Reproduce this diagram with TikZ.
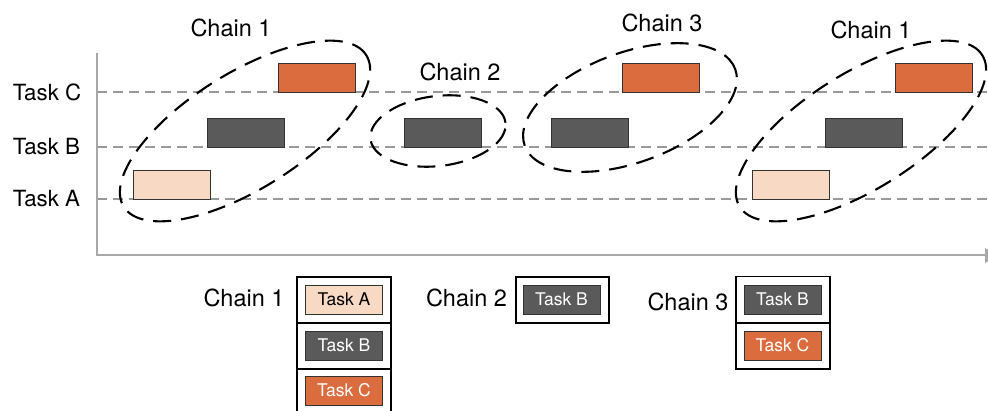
\documentclass[tikz,border=0pt]{standalone}
\usepackage{fontspec}
\setmainfont{TeX Gyre Heros}
\definecolor{peach}{HTML}{F8D9C4}
\definecolor{darkbar}{HTML}{5A5A5A}
\definecolor{orangebar}{HTML}{DB6C3E}
\definecolor{gridgray}{HTML}{999999}
\definecolor{axisgray}{HTML}{A8A8A8}
\definecolor{barline}{HTML}{333333}
\tikzset{
  bar/.style={draw=barline, line width=0.9pt, minimum width=77pt, minimum height=28.5pt, inner sep=0pt},
  barA/.style={bar, fill=peach},
  barB/.style={bar, fill=darkbar},
  barC/.style={bar, fill=orangebar},
  sbar/.style={draw=barline, line width=0.9pt, minimum width=77pt, minimum height=29pt, inner sep=0pt, font=\fontsize{17.5}{19}\selectfont},
  sbarA/.style={sbar, fill=peach, text=black},
  sbarB/.style={sbar, fill=darkbar, text=white},
  sbarC/.style={sbar, fill=orangebar, text=white},
  cell/.style={draw=black, line width=1.4pt, minimum width=94pt, minimum height=46pt, inner sep=0pt},
  gridline/.style={draw=gridgray, line width=2.6pt, dash pattern=on 10pt off 6pt},
  chainell/.style={draw=black, line width=2.1pt, dash pattern=on 18pt off 10pt},
  rowlabel/.style={font=\fontsize{22.3}{24}\selectfont, inner sep=0pt},
  chainlabel/.style={font=\fontsize{23.5}{25}\selectfont, inner sep=0pt},
}
\begin{document}
\begin{tikzpicture}[x=1pt, y=-1pt]
\useasboundingbox (0,0) rectangle (988,410);
\clip (0,0) rectangle (988,410);
% row labels
\node[rowlabel] (lc) at (47,92) {Task C};
\node[rowlabel] (lb) at (46.5,147) {Task B};
\node[rowlabel] (la) at (46.5,199) {Task A};
% grid lines
\coordinate (gc0) at (97,92);  \coordinate (gc1) at (988,92);
\coordinate (gb0) at (97,147); \coordinate (gb1) at (988,147);
\coordinate (ga0) at (97,199); \coordinate (ga1) at (988,199);
\draw[gridline] (gc0) -- (gc1);
\draw[gridline] (gb0) -- (gb1);
\draw[gridline] (ga0) -- (ga1);
% axes
\coordinate (ytop) at (97,53);
\coordinate (orig) at (97,255);
\coordinate (xend) at (985,255);
\draw[axisgray, line width=2.4pt] (ytop) -- (orig) -- (xend);
\fill[axisgray] (985,248) -- (985,263) -- (999,255.5) -- cycle;
% bars: chain 1 (left)
\node[barA] (a1) at (171.5,184.75) {};
\node[barB] (b1) at (245.5,132.75) {};
\node[barC] (c1) at (316.5,77.75) {};
% chain 2
\node[barB] (b2) at (442.5,132.75) {};
% chain 3
\node[barB] (b3) at (590,132.75) {};
\node[barC] (c3) at (661,77.75) {};
% chain 1 (right)
\node[barA] (a4) at (790.5,184.75) {};
\node[barB] (b4) at (863.5,132.75) {};
\node[barC] (c4) at (933.5,77.75) {};
% ellipses
\draw[chainell, rotate around={32:(245,131)}] (245,131) ellipse [x radius=143pt, y radius=58pt];
\draw[chainell, rotate around={7:(438,131)}] (438,131) ellipse [x radius=68pt, y radius=35pt];
\draw[chainell, rotate around={20:(630,107.5)}] (630,107.5) ellipse [x radius=112pt, y radius=55pt];
\draw[chainell, rotate around={32:(861,131)}] (861,131) ellipse [x radius=143pt, y radius=58pt];
% chain labels (top)
\node[chainlabel] (t1) at (231,28) {Chain 1};
\node[chainlabel] (t2) at (460,72) {Chain 2};
\node[chainlabel] (t3) at (662,23) {Chain 3};
\node[chainlabel] (t4) at (871,30) {Chain 1};
% bottom legend: chain 1
\node[chainlabel] (l1) at (244,298) {Chain 1};
\node[cell] (k1) at (344,300) {};
\node[cell] (k2) at (344,346) {};
\node[cell] (k3) at (344,392) {};
\node[sbarA] (s1a) at (344,299.5) {Task A};
\node[sbarB] (s1b) at (344,345.5) {Task B};
\node[sbarC] (s1c) at (344,390.5) {Task C};
% chain 2
\node[chainlabel] (l2) at (466.5,298) {Chain 2};
\node[cell, minimum width=93pt] (k4) at (562.5,300) {};
\node[sbarB] (s2b) at (561.5,299.5) {Task B};
% chain 3
\node[chainlabel] (l3) at (688,302) {Chain 3};
\node[cell] (k5) at (783,299.5) {};
\node[cell] (k6) at (783,346) {};
\node[sbarB] (s3b) at (782.5,299.5) {Task B};
\node[sbarC] (s3c) at (782.5,345.5) {Task C};
\end{tikzpicture}
\end{document}
